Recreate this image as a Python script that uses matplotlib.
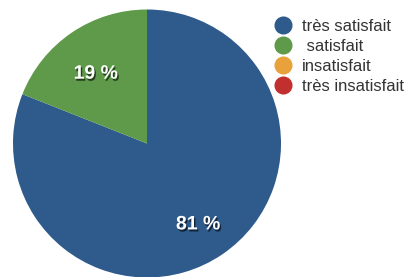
import matplotlib.pyplot as plt
import matplotlib.patheffects as pe
from matplotlib.lines import Line2D

# data
categories = ["très satisfait", " satisfait", "insatisfait", "très insatisfait"]
values = [81, 19, 0, 0]
colors = ["#2E5A8C", "#5E9A4A", "#E9A23B", "#C1302E"]

plt.rcParams["font.family"] = ["Liberation Sans", "DejaVu Sans"]

fig = plt.figure(figsize=(4.09, 2.77), dpi=100)
# square axes holding the pie, centre at (147, 143.5) px, radius 134 px
W, H = 409, 277
cx, cy, r = 147, 277 - 143.5, 134
ax = fig.add_axes([(cx - r) / W, (cy - r) / H, 2 * r / W, 2 * r / H])

shadow = [pe.withSimplePatchShadow(offset=(1, -1.5), shadow_rgbFace="black", alpha=0.6)]

wedges, texts, autotexts = ax.pie(
    values,
    colors=colors,
    startangle=90,
    counterclock=False,
    autopct=lambda p: f"{p:.0f} %" if p > 0.5 else "",
    pctdistance=0.68,
    wedgeprops={"linewidth": 0},
    textprops={"color": "white", "fontsize": 14, "fontweight": "bold"},
)
for t in autotexts:
    t.set_path_effects(shadow)
    x, y = t.get_position()
    t.set_position((x, y - 0.045))
ax.set_xlim(-1, 1)
ax.set_ylim(-1, 1)

handles = [
    Line2D([], [], linestyle="none", marker="o", markersize=12,
           markerfacecolor=c, markeredgecolor=c)
    for c in colors
]
leg = fig.legend(
    handles, categories,
    loc="upper left",
    bbox_to_anchor=(275 / W, 1 - 19 / H),
    frameon=False,
    fontsize=12,
    labelspacing=0.3,
    handlelength=1.0,
    handletextpad=0.62,
    borderpad=0,
    borderaxespad=0,
)
for t in leg.get_texts():
    t.set_color("#333333")

fig.savefig("out.png", dpi=100)
